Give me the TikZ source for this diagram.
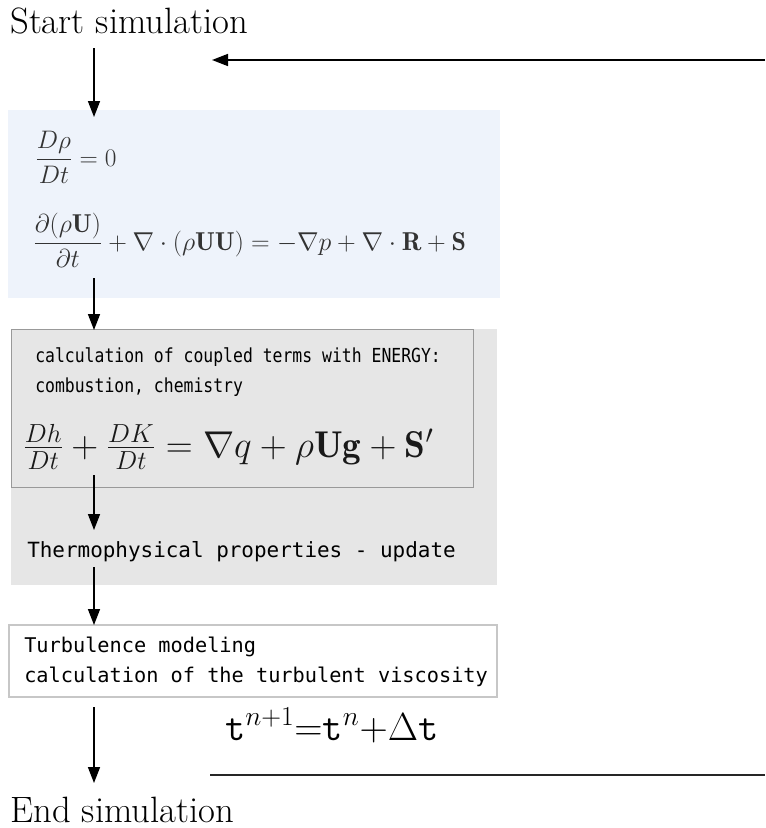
\RequirePackage{fix-cm}
\documentclass[tikz,border=0pt]{standalone}
\usepackage{fontspec}
\usepackage{amsmath}
\usetikzlibrary{arrows.meta}
\newfontfamily\dmono{DejaVu Sans Mono}
\newfontfamily\dmonoc[FakeStretch=0.85]{DejaVu Sans Mono}
\definecolor{bluebg}{HTML}{EEF3FB}
\definecolor{graybg}{HTML}{E6E6E6}
\definecolor{eqcol}{HTML}{333333}
\tikzset{
  txt/.style={inner sep=0pt, anchor=base west},
  arr/.style={line width=1.2pt, -{Triangle[length=12pt,width=9pt]}},
  plainline/.style={line width=1.5pt, draw=black!85},
}
\begin{document}
\begin{tikzpicture}[x=0.75pt,y=-0.75pt]
\useasboundingbox (0,0) rectangle (765,828);
% boxes
\fill[bluebg] (8,110) rectangle (500,298);
\fill[graybg] (11,329) rectangle (497,585);
\draw[black!40, line width=0.6pt] (11,329) rectangle (473,487);
\draw[black!22, line width=0.8pt] (9,625) rectangle (497,697);
% texts
\node[txt] (start) at (10,33) {\fontsize{27.5}{32}\selectfont Start simulation};
\node[txt, text=eqcol] (eqa) at (35,166) {\fontsize{19}{23}\selectfont $\dfrac{D\rho}{Dt}=0$};
\node[txt, text=eqcol] (eqb) at (33,250) {\fontsize{19.4}{23}\selectfont $\dfrac{\partial(\rho\mathbf{U})}{\partial t}+\nabla\cdot(\rho\mathbf{U}\mathbf{U})=-\nabla p+\nabla\cdot\mathbf{R}+\mathbf{S}$};
\node[txt] (coupa) at (35,362) {\fontsize{14.5}{17}\dmonoc calculation of coupled terms with ENERGY:};
\node[txt] (coupb) at (35,392) {\fontsize{14.5}{17}\dmonoc combustion, chemistry};
\node[txt, text=black!90] (energy) at (23,457) {\fontsize{28}{33}\selectfont $\frac{Dh}{Dt}+\frac{DK}{Dt}=\nabla q+\rho\mathbf{Ug}+\mathbf{S}'$};
\node[txt] (thermo) at (27,557) {\fontsize{15.7}{18}\dmono Thermophysical properties - update};
\node[txt] (turba) at (24,652) {\fontsize{15.2}{18}\dmono Turbulence modeling};
\node[txt] (turbb) at (24,682) {\fontsize{15.2}{18}\dmono calculation of the turbulent viscosity};
\node[txt] (teq) at (225,740) {\fontsize{29.4}{34}\selectfont $\mathtt{t}^{n+1}{=}\mathtt{t}^{n}{+}\Delta\mathtt{t}$};
\node[txt] (end) at (10,822) {\fontsize{27.5}{32}\selectfont End simulation};
% connectors
\coordinate (s1) at (94,48);  \coordinate (s2) at (94,117);
\coordinate (b1) at (94,278); \coordinate (b2) at (94,330);
\coordinate (c1) at (94,475); \coordinate (c2) at (94,530);
\coordinate (d1) at (94,567); \coordinate (d2) at (94,625);
\coordinate (e1) at (94,707); \coordinate (e2) at (94,783);
\coordinate (r1) at (765,60); \coordinate (r2) at (212,60);
\coordinate (l1) at (210,775); \coordinate (l2) at (765,775);
\draw[arr] (s1) -- (s2);
\draw[arr] (b1) -- (b2);
\draw[arr] (c1) -- (c2);
\draw[arr] (d1) -- (d2);
\draw[arr] (e1) -- (e2);
\draw[arr] (r1) -- (r2);
\draw[plainline] (l1) -- (l2);
\end{tikzpicture}
\end{document}
